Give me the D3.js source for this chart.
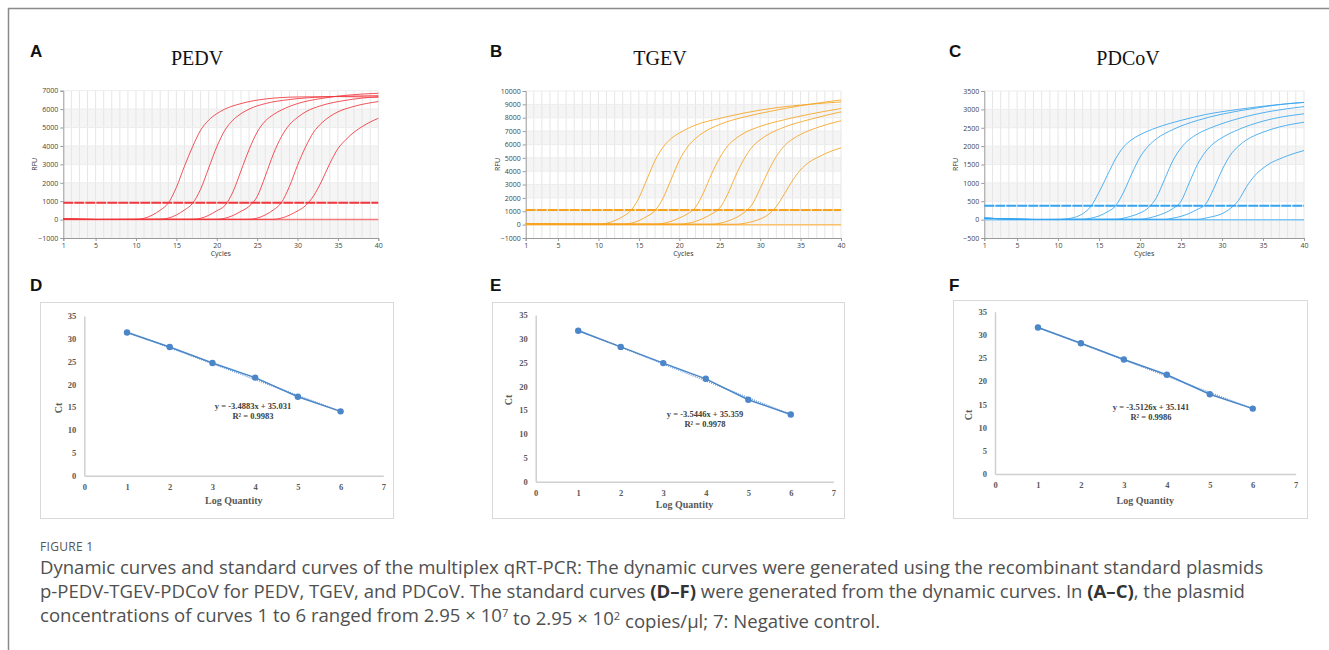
<!DOCTYPE html>
<html>
<head>
<meta charset="utf-8">
<script src="https://cdn.jsdelivr.net/npm/d3@7"></script>
<style>
    body { margin: 0; background: #fff; }
    svg { display: block; }
</style>
</head>
<body>
<svg id="figure" width="1329" height="650"></svg>
<script>
// ---- dynamic (amplification) curves, [cycle, RFU] ----
const cycleTicks = [1, 5, 10, 15, 20, 25, 30, 35, 40];

const pedvTicks = [-1000, 0, 1000, 2000, 3000, 4000, 5000, 6000, 7000];
const pedvThreshold = 920;
const pedvCurves = [
    [[1,40],[5,8],[10,10],[11,70],[12,240],[13,510],[14,900],[15,1750],[16,2900],[17,3950],[18,4850],[19,5400],[20,5750],[21,6000],[23,6300],[26,6550],[30,6660],[35,6680],[40,6640]],
    [[1,40],[5,8],[13,20],[14,80],[15,250],[16,520],[17,880],[18,1650],[19,2800],[20,3950],[21,4850],[22,5400],[23,5750],[24,6000],[26,6300],[29,6520],[33,6660],[37,6710],[40,6730]],
    [[1,40],[5,8],[17,15],[18,70],[19,230],[20,480],[21,760],[22,1500],[23,2650],[24,3800],[25,4750],[26,5350],[27,5700],[28,5950],[30,6300],[33,6580],[36,6750],[40,6860]],
    [[1,40],[5,8],[20,15],[21,70],[22,220],[23,450],[24,720],[25,1250],[26,2350],[27,3550],[28,4500],[29,5150],[30,5550],[31,5850],[33,6200],[36,6480],[40,6680]],
    [[1,40],[5,8],[24,15],[25,80],[26,250],[27,520],[28,920],[29,1800],[30,2950],[31,3950],[32,4750],[33,5250],[34,5600],[35,5850],[37,6150],[40,6410]],
    [[1,40],[5,8],[27,15],[28,80],[29,240],[30,470],[31,760],[32,1300],[33,2100],[34,3050],[35,3850],[36,4350],[37,4750],[38,5050],[39,5300],[40,5500]]
];
const pedvNegative = [[1, 0], [40, 0]];

const tgevTicks = [-1000, 0, 1000, 2000, 3000, 4000, 5000, 6000, 7000, 8000, 9000, 10000];
const tgevThreshold = 1100;
const tgevCurves = [
    [[1,60],[5,40],[10,30],[11,100],[12,300],[13,600],[14,1050],[15,2000],[16,3400],[17,4800],[18,5800],[19,6450],[20,6850],[22,7450],[25,7950],[28,8350],[32,8750],[36,9000],[40,9180]],
    [[1,60],[5,40],[13,30],[14,100],[15,300],[16,620],[17,1050],[18,2000],[19,3400],[20,4800],[21,5800],[22,6450],[23,6900],[25,7500],[28,8050],[31,8450],[35,8900],[40,9330]],
    [[1,60],[5,40],[17,30],[18,90],[19,250],[20,500],[21,800],[22,1300],[23,2400],[24,3800],[25,5000],[26,5900],[27,6450],[28,6850],[30,7350],[33,7850],[36,8250],[40,8690]],
    [[1,60],[5,40],[20,30],[21,90],[22,240],[23,480],[24,800],[25,1250],[26,2300],[27,3700],[28,4900],[29,5800],[30,6350],[31,6750],[33,7300],[36,7850],[40,8440]],
    [[1,60],[5,40],[24,30],[25,100],[26,270],[27,520],[28,900],[29,1500],[30,2700],[31,4000],[32,5100],[33,5900],[34,6400],[35,6750],[37,7250],[40,7770]],
    [[1,60],[5,40],[27,30],[28,90],[29,220],[30,420],[31,750],[32,1350],[33,2300],[34,3300],[35,4100],[36,4650],[37,5000],[38,5300],[40,5750]]
];
const tgevNegative = [[1, 0], [40, 0]];

const pdcovTicks = [-500, 0, 500, 1000, 1500, 2000, 2500, 3000, 3500];
const pdcovThreshold = 380;
const pdcovCurves = [
    [[1,40],[3,25],[7,5],[10,0],[11,20],[12,60],[13,160],[14,360],[15,750],[16,1200],[17,1650],[18,1980],[19,2180],[20,2310],[22,2500],[25,2700],[28,2860],[32,3000],[36,3110],[40,3190]],
    [[1,40],[3,25],[7,5],[13,10],[14,40],[15,100],[16,210],[17,370],[18,750],[19,1250],[20,1700],[21,2000],[22,2200],[24,2450],[27,2700],[30,2870],[34,3030],[37,3130],[40,3190]],
    [[1,40],[3,25],[7,5],[17,10],[18,40],[19,100],[20,180],[21,320],[22,600],[23,1100],[24,1600],[25,1950],[26,2180],[27,2330],[29,2530],[32,2750],[36,2950],[40,3075]],
    [[1,40],[3,25],[7,5],[20,10],[21,40],[22,100],[23,180],[24,300],[25,500],[26,1000],[27,1500],[28,1850],[29,2080],[30,2230],[32,2450],[35,2680],[40,2880]],
    [[1,40],[3,25],[7,5],[23,10],[24,40],[25,90],[26,170],[27,280],[28,420],[29,850],[30,1350],[31,1750],[32,2000],[33,2170],[35,2380],[37,2520],[40,2650]],
    [[1,40],[3,25],[7,5],[27,10],[28,40],[29,90],[30,160],[31,300],[32,520],[33,900],[34,1200],[35,1400],[36,1550],[37,1650],[38,1740],[40,1880]]
];
const pdcovNegative = [[1, 0], [40, 0]];

// ---- standard curves ----
const logQuantity = [1, 2, 3, 4, 5, 6];
const pedvCt = [31.4, 28.2, 24.7, 21.5, 17.3, 14.1];
const tgevCt = [31.7, 28.3, 24.9, 21.6, 17.2, 14.1];
const pdcovCt = [31.6, 28.2, 24.7, 21.4, 17.2, 14.1];
// trend line end points at log quantity 1 and 6
const pedvTrend = [31.54, 14.10];
const tgevTrend = [31.81, 14.09];
const pdcovTrend = [31.63, 14.07];
const stdXTicks = [0, 1, 2, 3, 4, 5, 6, 7];
const stdYTicks = [0, 5, 10, 15, 20, 25, 30, 35];
const equations = ["y = -3.4883x + 35.031", "y = -3.5446x + 35.359", "y = -3.5126x + 35.141"];
const rSquared = ["0.9983", "0.9978", "0.9986"];

const svg = d3.select("#figure");
const intFormat = d3.format("d");

// outer frame (left and top edges only are visible)
svg.append("path")
    .attr("d", "M8.5,650 V8.5 H1329")
    .attr("fill", "none")
    .attr("stroke", "#8a8a8a")
    .attr("stroke-width", 1.5);

const panelLetter = (letter, x, y) => svg.append("text")
    .attr("x", x).attr("y", y)
    .attr("font-family", "Liberation Sans, Arial, sans-serif")
    .attr("font-weight", "bold")
    .attr("font-size", 17)
    .attr("fill", "#111")
    .text(letter);

function drawDynamic(cfg) {
    const g = svg.append("g").attr("class", "dynamicG");
    const x = d3.scaleLinear().domain([1, 40]).range([cfg.left, cfg.right]);
    const y = d3.scaleLinear()
        .domain([cfg.ticks[0], cfg.ticks[cfg.ticks.length - 1]])
        .range([cfg.bottom, cfg.top]);

    // alternating bands from the top
    const bands = d3.pairs(cfg.ticks).reverse();
    g.selectAll(".band")
        .data(bands.filter((d, i) => i % 2 === 1))
        .join("rect")
        .attr("class", "band")
        .attr("x", cfg.left)
        .attr("width", cfg.right - cfg.left)
        .attr("y", d => y(d[1]))
        .attr("height", d => y(d[0]) - y(d[1]))
        .attr("fill", "#f5f5f5");

    g.selectAll(".vGrid")
        .data(d3.range(2, 41))
        .join("line")
        .attr("class", "vGrid")
        .attr("x1", d => x(d)).attr("x2", d => x(d))
        .attr("y1", cfg.top).attr("y2", cfg.bottom)
        .attr("stroke", "#e6e6e6")
        .attr("stroke-width", 1);

    g.selectAll(".hGrid")
        .data(cfg.ticks.slice(1))
        .join("line")
        .attr("class", "hGrid")
        .attr("x1", cfg.left).attr("x2", cfg.right)
        .attr("y1", d => y(d)).attr("y2", d => y(d))
        .attr("stroke", "#ededed");

    const xAxisG = g.append("g")
        .attr("transform", "translate(0," + cfg.bottom + ")")
        .call(d3.axisBottom(x).tickValues(cycleTicks).tickSize(3).tickPadding(2));
    const yAxisG = g.append("g")
        .attr("transform", "translate(" + cfg.left + ",0)")
        .call(d3.axisLeft(y).tickValues(cfg.ticks).tickFormat(intFormat).tickSize(3).tickPadding(2));
    [xAxisG, yAxisG].forEach(a => {
        a.selectAll("path, line").attr("stroke", "#9a9a9a");
        a.selectAll("text")
            .attr("font-family", "Open Sans, sans-serif")
            .attr("font-size", 7)
            .attr("fill", "#444");
    });

    g.append("text")
        .attr("transform", "rotate(-90)")
        .attr("x", -(cfg.top + cfg.bottom) / 2)
        .attr("y", cfg.left - 26)
        .attr("text-anchor", "middle")
        .attr("font-family", "Open Sans, sans-serif")
        .attr("font-size", 7)
        .attr("fill", "#333")
        .text("RFU");
    g.append("text")
        .attr("x", (cfg.left + cfg.right) / 2)
        .attr("y", cfg.bottom + 18)
        .attr("text-anchor", "middle")
        .attr("font-family", "Open Sans, sans-serif")
        .attr("font-size", 7)
        .attr("fill", "#333")
        .text("Cycles");

    g.append("text")
        .attr("x", cfg.titleX)
        .attr("y", 65)
        .attr("text-anchor", "middle")
        .attr("font-family", "Liberation Serif, Times New Roman, serif")
        .attr("font-size", 20)
        .attr("fill", "#111")
        .text(cfg.title);

    const line = d3.line()
        .x(d => x(d[0]))
        .y(d => y(d[1]))
        .curve(d3.curveMonotoneX);

    g.append("path")
        .datum(cfg.negative)
        .attr("d", line)
        .attr("fill", "none")
        .attr("stroke", cfg.lightColor)
        .attr("stroke-width", 1.5);

    g.selectAll(".curve")
        .data(cfg.curves)
        .join("path")
        .attr("class", "curve")
        .attr("d", line)
        .attr("fill", "none")
        .attr("stroke", cfg.color)
        .attr("stroke-opacity", 0.85)
        .attr("stroke-width", 1);

    g.append("line")
        .attr("x1", cfg.left).attr("x2", cfg.right)
        .attr("y1", y(cfg.threshold)).attr("y2", y(cfg.threshold))
        .attr("stroke", cfg.color)
        .attr("stroke-width", 2)
        .attr("stroke-dasharray", "10,1");
}

function drawStandard(cfg, ct, trend, eq, r2) {
    const g = svg.append("g").attr("class", "standardG");
    g.append("rect")
        .attr("x", cfg.frame[0] + 0.5).attr("y", cfg.frame[1] + 0.5)
        .attr("width", cfg.frame[2]).attr("height", cfg.frame[3])
        .attr("fill", "#fff")
        .attr("stroke", "#d9d9d9");

    const x = d3.scaleLinear().domain([0, 7]).range([cfg.x0, cfg.x7]);
    const y = d3.scaleLinear().domain([0, 35]).range([cfg.y0, cfg.y35]);

    const xAxisG = g.append("g")
        .attr("transform", "translate(0," + cfg.y0 + ")")
        .call(d3.axisBottom(x).tickValues(stdXTicks).tickFormat(intFormat).tickSize(0).tickPadding(8));
    const yAxisG = g.append("g")
        .attr("transform", "translate(" + cfg.x0 + ",0)")
        .call(d3.axisLeft(y).tickValues(stdYTicks).tickFormat(intFormat).tickSize(0).tickPadding(8));
    [xAxisG, yAxisG].forEach(a => {
        a.select(".domain").attr("stroke", "#d0d0d0").attr("stroke-width", 1.5);
        a.selectAll("text")
            .attr("font-family", "Liberation Serif, Times New Roman, serif")
            .attr("font-weight", "bold")
            .attr("font-size", 8.5)
            .attr("fill", "#595959");
    });

    g.append("text")
        .attr("transform", "rotate(-90)")
        .attr("x", -cfg.ctY)
        .attr("y", cfg.ctX)
        .attr("text-anchor", "middle")
        .attr("font-family", "Liberation Serif, Times New Roman, serif")
        .attr("font-weight", "bold")
        .attr("font-size", 10)
        .attr("fill", "#595959")
        .text("Ct");
    g.append("text")
        .attr("x", (cfg.x0 + cfg.x7) / 2)
        .attr("y", cfg.labelY)
        .attr("text-anchor", "middle")
        .attr("font-family", "Liberation Serif, Times New Roman, serif")
        .attr("font-weight", "bold")
        .attr("font-size", 10)
        .attr("fill", "#595959")
        .text("Log Quantity");

    const points = logQuantity.map((q, i) => [q, ct[i]]);
    const trendPts = [[logQuantity[0], trend[0]], [logQuantity[logQuantity.length - 1], trend[1]]];
    const line = d3.line().x(d => x(d[0])).y(d => y(d[1]));

    g.append("path")
        .datum(trendPts)
        .attr("d", line)
        .attr("fill", "none")
        .attr("stroke", "#6fa0d8")
        .attr("stroke-width", 1.5)
        .attr("stroke-dasharray", "1,1.2");
    g.append("path")
        .datum(points)
        .attr("d", line)
        .attr("fill", "none")
        .attr("stroke", "#4a86c8")
        .attr("stroke-width", 1.5);
    g.selectAll(".stdDot")
        .data(points)
        .join("circle")
        .attr("class", "stdDot")
        .attr("cx", d => x(d[0]))
        .attr("cy", d => y(d[1]))
        .attr("r", 3.2)
        .attr("fill", "#4a86c8");

    const eqText = g.append("text")
        .attr("text-anchor", "middle")
        .attr("font-family", "Liberation Serif, Times New Roman, serif")
        .attr("font-weight", "bold")
        .attr("font-size", 8.5)
        .attr("fill", "#404040");
    eqText.append("tspan").attr("x", cfg.eqX).attr("y", cfg.eqY).text(eq);
    eqText.append("tspan").attr("x", cfg.eqX).attr("y", cfg.eqY + 10).text("R\u00b2 = " + r2);
}

// panels A-C
panelLetter("A", 30, 57);
panelLetter("B", 490, 57);
panelLetter("C", 949, 57);
drawDynamic({ title: "PEDV", titleX: 197, left: 63.3, right: 378.3, top: 90.7, bottom: 238,
    ticks: pedvTicks, curves: pedvCurves, negative: pedvNegative, threshold: pedvThreshold,
    color: "#f0363c", lightColor: "#f47a7e" });
drawDynamic({ title: "TGEV", titleX: 660, left: 525.7, right: 841, top: 91, bottom: 238,
    ticks: tgevTicks, curves: tgevCurves, negative: tgevNegative, threshold: tgevThreshold,
    color: "#f7a21e", lightColor: "#f9c16a" });
drawDynamic({ title: "PDCoV", titleX: 1128, left: 984.3, right: 1304, top: 91, bottom: 238,
    ticks: pdcovTicks, curves: pdcovCurves, negative: pdcovNegative, threshold: pdcovThreshold,
    color: "#35a4f0", lightColor: "#7cc3f4" });

// panels D-F
panelLetter("D", 30, 291);
panelLetter("E", 490, 291);
panelLetter("F", 949, 291);
drawStandard({ frame: [40, 302, 353, 216], x0: 84.3, x7: 383.3, y0: 475.7, y35: 316,
    ctX: 62, ctY: 408, labelY: 504, eqX: 253, eqY: 409 }, pedvCt, pedvTrend, equations[0], rSquared[0]);
drawStandard({ frame: [492, 302, 352, 216], x0: 535.7, x7: 833.3, y0: 481.7, y35: 315,
    ctX: 512, ctY: 400, labelY: 508, eqX: 705, eqY: 417 }, tgevCt, tgevTrend, equations[1], rSquared[1]);
drawStandard({ frame: [953, 300, 354, 218], x0: 995, x7: 1295.7, y0: 474, y35: 311.7,
    ctX: 972, ctY: 415, labelY: 504, eqX: 1151, eqY: 410 }, pdcovCt, pdcovTrend, equations[2], rSquared[2]);

// caption
const captionFont = "Open Sans, sans-serif";
svg.append("text")
    .attr("x", 40).attr("y", 551)
    .attr("font-family", captionFont)
    .attr("font-size", 12)
    .attr("letter-spacing", 0.3)
    .attr("fill", "#555")
    .text("FIGURE 1");

const captionLines = [
    [["Dynamic curves and standard curves of the multiplex qRT-PCR: The dynamic curves were generated using the recombinant standard plasmids"]],
    [["p-PEDV-TGEV-PDCoV for PEDV, TGEV, and PDCoV. The standard curves "], ["(D\u2013F)", "b"], [" were generated from the dynamic curves. In "], ["(A\u2013C)", "b"], [", the plasmid"]],
    [["concentrations of curves 1 to 6 ranged from 2.95 \u00d7 10"], ["7", "sup"], [" to 2.95 \u00d7 10"], ["2", "sup"], [" copies/\u03bcl; 7: Negative control."]]
];
const captionText = svg.append("text")
    .attr("font-family", captionFont)
    .attr("font-size", 17)
    .attr("fill", "#505050");
captionLines.forEach((parts, li) => {
    parts.forEach((p, pi) => {
        const t = captionText.append("tspan").text(p[0]);
        if (pi === 0) t.attr("x", 40).attr("y", 574 + li * 24);
        if (p[1] === "b") t.attr("font-weight", "bold").attr("fill", "#333");
        if (p[1] === "sup") t.attr("font-size", "0.6em").attr("dy", "-0.42em");
        if (pi > 0 && parts[pi - 1][1] === "sup") t.attr("dy", "0.42em");
    });
});
// fit the first caption line to the width it has in the figure
const firstLen = captionText.select("tspan").node().getComputedTextLength();
if (firstLen > 0) captionText.attr("font-size", 17 * 1224 / firstLen);
</script>
</body>
</html>
